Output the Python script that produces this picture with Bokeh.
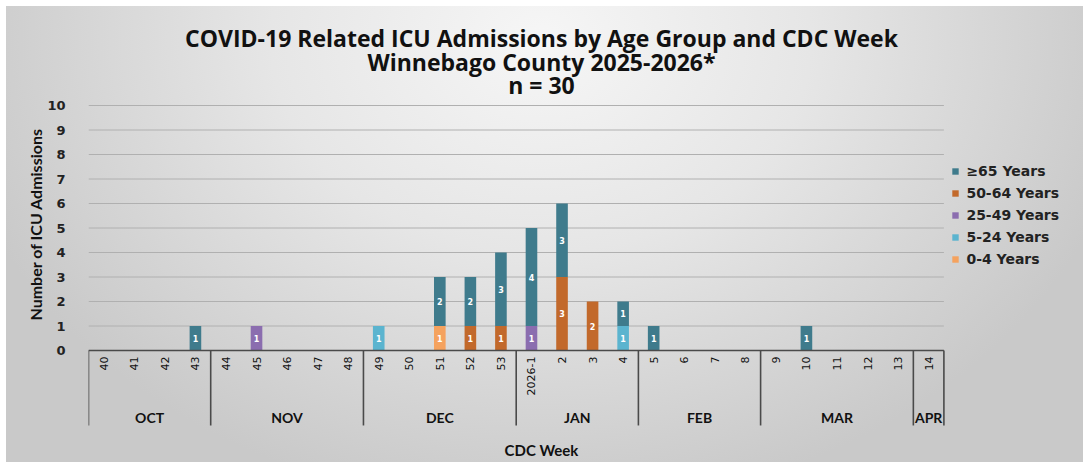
import math
from bokeh.plotting import figure
from bokeh.layouts import column, row
from bokeh.models import (Range1d, FixedTicker, ColumnDataSource, Legend, LegendItem,
                          Label, Spacer, Title)
from bokeh.core.properties import value
from bokeh.embed import file_html
from bokeh.resources import INLINE

# ---------------- data ----------------
weeks = ["40", "41", "42", "43", "44", "45", "46", "47", "48", "49", "50", "51", "52", "53",
         "2026-1", "2", "3", "4", "5", "6", "7", "8", "9", "10", "11", "12", "13", "14"]
months = ["OCT", "NOV", "DEC", "JAN", "FEB", "MAR", "APR"]
weeks_per_month = [4, 5, 5, 4, 4, 5, 1]

age_groups = ["0-4 Years", "5-24 Years", "25-49 Years", "50-64 Years", "≥65 Years"]
age_0_4   = [0, 0, 0, 0, 0, 0, 0, 0, 0, 0, 0, 1, 0, 0, 0, 0, 0, 0, 0, 0, 0, 0, 0, 0, 0, 0, 0, 0]
age_5_24  = [0, 0, 0, 0, 0, 0, 0, 0, 0, 1, 0, 0, 0, 0, 0, 0, 0, 1, 0, 0, 0, 0, 0, 0, 0, 0, 0, 0]
age_25_49 = [0, 0, 0, 0, 0, 1, 0, 0, 0, 0, 0, 0, 0, 0, 1, 0, 0, 0, 0, 0, 0, 0, 0, 0, 0, 0, 0, 0]
age_50_64 = [0, 0, 0, 0, 0, 0, 0, 0, 0, 0, 0, 0, 1, 1, 0, 3, 2, 0, 0, 0, 0, 0, 0, 0, 0, 0, 0, 0]
age_65p   = [0, 0, 0, 1, 0, 0, 0, 0, 0, 0, 0, 2, 2, 3, 4, 3, 0, 1, 1, 0, 0, 0, 0, 1, 0, 0, 0, 0]
series = [age_0_4, age_5_24, age_25_49, age_50_64, age_65p]
colors = ["#f5a25e", "#5bb4cf", "#8b6daf", "#c2692b", "#3f7b8c"]
y_ticks = list(range(0, 11))

title_lines = ["COVID-19 Related ICU Admissions by Age Group and CDC Week",
               "Winnebago County 2025-2026*",
               "n = 30"]
x_title = "CDC Week"
y_title = "Number of ICU Admissions"

# ---------------- layout constants (pixels) ----------------
PAD = 6                     # white page margin around the chart box
W, H = 1077, 456            # chart box
BL = 82                     # room for the y axis
FW, FH = W - BL, H          # plot frame
UNIT_X = 30.55              # px per week
UNIT_Y = 24.5               # px per admission
ZERO_Y = 344                # baseline, px from top of chart box
CX = 535                    # horizontal centre of the titles, px from left of chart box
n = len(weeks)

x_rng = Range1d(-0.5, -0.5 + FW / UNIT_X)
y_rng = Range1d(-(FH - ZERO_Y) / UNIT_Y, ZERO_Y / UNIT_Y)

p = figure(width=W, height=H, output_backend="svg", toolbar_location=None,
           x_range=x_rng, y_range=y_rng,
           min_border_left=BL, min_border_right=0, min_border_top=0, min_border_bottom=0,
           background_fill_color=None, border_fill_color=None, outline_line_color=None,
           styles={"background-image": "radial-gradient(ellipse 600px 470px at 535px 34px, "
                                       "#f6f6f6 0%, #e6e6e6 45%, #c9c9c9 100%)"})

xs = list(range(n))
keys = ["s%d" % i for i in range(len(series))]
src = ColumnDataSource({"x": xs, **{k: s for k, s in zip(keys, series)}})

# horizontal gridlines, only over the week area
p.segment(x0=[-0.5] * len(y_ticks), x1=[n - 0.5] * len(y_ticks), y0=y_ticks, y1=y_ticks,
          line_color="#b0b0b0", line_width=1)

renderers = p.vbar_stack(keys, x="x", width=0.38, color=colors, line_color=None, source=src)

# segment value labels
lx, ly, lt = [], [], []
for i in range(n):
    base = 0
    for s in series:
        v = s[i]
        if v > 0:
            lx.append(i); ly.append(base + v / 2); lt.append(str(v))
        base += v
p.text(x=lx, y=ly, text=lt, text_color="white", text_font=value("DejaVu Sans"),
       text_font_style="bold", text_font_size="8px", text_align="center", text_baseline="middle")

# two-level category axis
p.segment(x0=[-0.5], y0=[0], x1=[n - 0.5], y1=[0], line_color="#4a4a4a", line_width=1.6)
sep_x, mid_x = [], []
start = 0
for k in weeks_per_month:
    sep_x.append(start - 0.5)
    mid_x.append(start + k / 2 - 0.5)
    start += k
sep_x.append(n - 0.5)
p.segment(x0=sep_x, y0=[0] * len(sep_x), x1=sep_x, y1=[-3.06] * len(sep_x),
          line_color="#4a4a4a", line_width=1.6)
p.text(x=xs, y=[-0.25] * n, text=weeks, angle=math.pi / 2,
       text_align="right", text_baseline="middle", text_font=value("DejaVu Sans"),
       text_font_size="11px", text_color="#111111")
p.text(x=mid_x, y=[-2.73] * len(mid_x), text=months, text_align="center",
       text_baseline="middle", text_font=value("Lato"), text_font_style="bold",
       text_font_size="14px", text_color="#111111")

# axes
p.xaxis.visible = False
p.xgrid.visible = False
p.ygrid.visible = False
p.yaxis.ticker = FixedTicker(ticks=y_ticks)
p.yaxis.axis_line_color = None
p.yaxis.major_tick_line_color = None
p.yaxis.minor_tick_line_color = None
p.yaxis.major_label_text_font = "DejaVu Sans"
p.yaxis.major_label_text_font_style = "bold"
p.yaxis.major_label_text_font_size = "13px"
p.yaxis.major_label_text_color = "#222222"
p.yaxis.major_label_standoff = 17

# y axis title (placed along the left side, starting 142 px above the frame bottom)
p.add_layout(Title(text=y_title, align="left", vertical_align="bottom", offset=142,
                   text_font="Lato", text_font_style="bold", text_font_size="16px",
                   text_color="#111111", standoff=0), "left")

# titles, centred on the chart box (screen px from the frame's bottom-left)
cx = CX - BL
for t, ty in zip(title_lines, [31, 55, 78]):
    p.add_layout(Label(x=cx, y=FH - ty, x_units="screen", y_units="screen", text=t,
                       text_align="center", text_baseline="middle",
                       text_font="Open Sans", text_font_style="bold",
                       text_font_size="23px", text_color="#111111"))
p.add_layout(Label(x=cx, y=FH - 443, x_units="screen", y_units="screen",
                   text=x_title, text_align="center", text_baseline="middle",
                   text_font="Lato", text_font_style="bold", text_font_size="15px",
                   text_color="#111111"))

# legend
items = [LegendItem(label=g, renderers=[r]) for g, r in zip(age_groups, renderers)][::-1]
legend = Legend(items=items, location=(n * UNIT_X + 8, FH - 263), border_line_color=None,
                background_fill_alpha=0, label_text_font="DejaVu Sans",
                label_text_font_style="bold", label_text_font_size="14px",
                label_text_color="#222222", glyph_width=8, glyph_height=8,
                label_height=20, spacing=2, padding=0, margin=0, label_standoff=7)
p.add_layout(legend)

layout = column(Spacer(height=PAD), row(Spacer(width=PAD), p))
open("out.html", "w").write(file_html(layout, INLINE))
